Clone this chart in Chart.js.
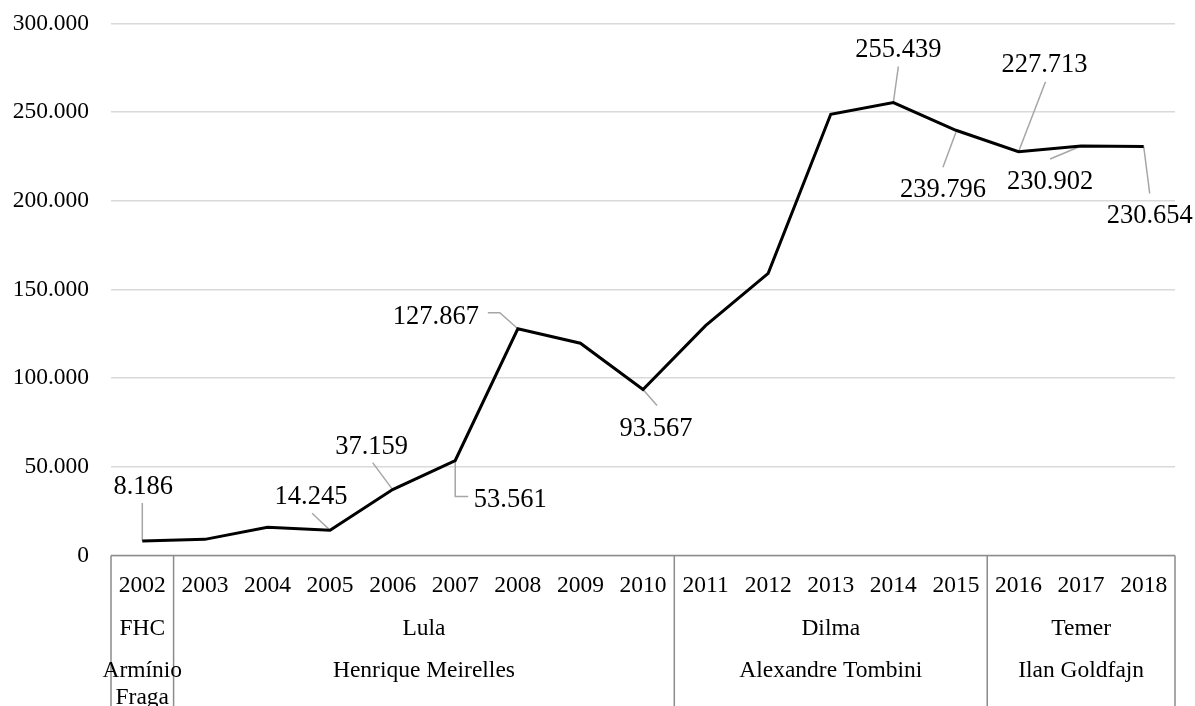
<!DOCTYPE html>
<html>
<head>
<meta charset="utf-8">
<script src="https://cdn.jsdelivr.net/npm/chart.js"></script>
<style>
  body { margin: 0; background: #fff; }
  canvas { display: block; }
</style>
</head>
<body>
<canvas id="myChart" width="1195" height="706"></canvas>
<script>
const years = ['2002', '2003', '2004', '2005', '2006', '2007', '2008', '2009', '2010',
               '2011', '2012', '2013', '2014', '2015', '2016', '2017', '2018'];
const reserves = [8186, 9100, 15900, 14245, 37159, 53561, 127867, 119700, 93567,
                  129600, 159100, 248800, 255439, 239796, 227713, 230902, 230654];
const yTicks = [0, 50000, 100000, 150000, 200000, 250000, 300000];

// second and third rows of the x axis: [label, first index, last index]
const presidents = [['FHC', 0, 0], ['Lula', 1, 8], ['Dilma', 9, 13], ['Temer', 14, 16]];
const bankChiefs = [['Armínio\nFraga', 0, 0], ['Henrique Meirelles', 1, 8],
                    ['Alexandre Tombini', 9, 13], ['Ilan Goldfajn', 14, 16]];

// which points get a value label
const labelled = [0, 3, 4, 5, 6, 8, 12, 13, 14, 15, 16];

// label placement relative to the point, plus the leader polyline
const labelSpots = {
    0:  { dx: 1,   dy: -54, leader: [[0, -38], [0, 0]] },
    3:  { dx: -19, dy: -33, leader: [[-18, -17], [0, 0]] },
    4:  { dx: -21, dy: -43, leader: [[-20, -27], [0, 0]] },
    5:  { dx: 55,  dy: 40,  leader: [[0, 0], [0, 36], [13, 36]] },
    6:  { dx: -82, dy: -12, leader: [[-30, -16], [-18, -16], [0, 0]] },
    8:  { dx: 13,  dy: 39,  leader: [[0, 0], [14, 16]] },
    12: { dx: 5,   dy: -52, leader: [[5, -36], [0, 0]] },
    13: { dx: -13, dy: 60,  leader: [[0, 2], [-13, 37]] },
    14: { dx: 26,  dy: -87, leader: [[27, -70], [0, 0]] },
    15: { dx: -31, dy: 36,  leader: [[-31, 13], [0, 0]] },
    16: { dx: 6,   dy: 70,  leader: [[0, 0], [6, 47]] }
};

const SERIF = '"Liberation Serif", "Times New Roman", serif';

const fmt = v => String(Math.round(v)).replace(/\B(?=(\d{3})+(?!\d))/g, '.');

const valueLabels = {
    id: 'valueLabels',
    beforeDatasetsDraw(chart) {
        const ctx = chart.ctx;
        const meta = chart.getDatasetMeta(0);
        ctx.save();
        ctx.strokeStyle = '#a6a6a6';
        ctx.lineWidth = 1.5;
        labelled.forEach(i => {
            const p = meta.data[i];
            const spot = labelSpots[i];
            ctx.beginPath();
            spot.leader.forEach(([ox, oy], k) => {
                if (k === 0) ctx.moveTo(p.x + ox, p.y + oy);
                else ctx.lineTo(p.x + ox, p.y + oy);
            });
            ctx.stroke();
        });
        ctx.restore();
    },
    afterDatasetsDraw(chart) {
        const ctx = chart.ctx;
        const meta = chart.getDatasetMeta(0);
        const data = chart.data.datasets[0].data;
        ctx.save();
        ctx.font = '26.5px ' + SERIF;
        ctx.fillStyle = '#000';
        ctx.textAlign = 'center';
        ctx.textBaseline = 'middle';
        labelled.forEach(i => {
            const p = meta.data[i];
            const spot = labelSpots[i];
            ctx.fillText(fmt(data[i]), p.x + spot.dx, p.y + spot.dy);
        });
        ctx.restore();
    }
};

// grouped category axis drawn under the plot
const groupAxis = {
    id: 'groupAxis',
    afterDraw(chart) {
        const ctx = chart.ctx;
        const x = chart.scales.x;
        const area = chart.chartArea;
        const step = (area.right - area.left) / years.length;
        const bottom = chart.height;

        ctx.save();
        ctx.strokeStyle = '#8c8c8c';
        ctx.lineWidth = 1.5;
        ctx.beginPath();
        ctx.moveTo(area.left, area.bottom);
        ctx.lineTo(area.right, area.bottom);
        const edges = [0, 1, 9, 14, 17];
        edges.forEach(e => {
            const ex = area.left + e * step;
            ctx.moveTo(ex, area.bottom);
            ctx.lineTo(ex, bottom);
        });
        ctx.stroke();

        ctx.font = '23.5px ' + SERIF;
        ctx.fillStyle = '#000';
        ctx.textAlign = 'center';
        ctx.textBaseline = 'middle';
        years.forEach((y, i) => {
            ctx.fillText(y, x.getPixelForValue(i), area.bottom + 30);
        });
        const drawRow = (groups, yPos) => {
            groups.forEach(([text, a, b]) => {
                const cx = (x.getPixelForValue(a) + x.getPixelForValue(b)) / 2;
                text.split('\n').forEach((line, k) => {
                    ctx.fillText(line, cx, yPos + k * 27);
                });
            });
        };
        drawRow(presidents, area.bottom + 73);
        drawRow(bankChiefs, area.bottom + 115);
        ctx.restore();
    }
};

const ctx = document.getElementById('myChart').getContext('2d');
const myChart = new Chart(ctx, {
    type: 'line',
    data: {
        labels: years,
        datasets: [{
            data: reserves,
            borderColor: '#000',
            borderWidth: 3,
            tension: 0,
            pointRadius: 0,
            fill: false
        }]
    },
    options: {
        responsive: false,
        animation: false,
        devicePixelRatio: 1,
        layout: {
            padding: { top: 23.5, bottom: 150.5, left: 0, right: 20 }
        },
        plugins: {
            legend: { display: false },
            tooltip: { enabled: false }
        },
        scales: {
            x: {
                display: false,
                offset: true
            },
            y: {
                min: 0,
                max: 300000,
                afterBuildTicks: axis => {
                    axis.ticks = yTicks.map(v => ({ value: v }));
                },
                afterFit: axis => {
                    axis.width = 111;
                    axis.paddingTop = 0;
                    axis.paddingBottom = 0;
                },
                border: { display: false },
                grid: { color: '#d9d9d9', lineWidth: 1.5, drawTicks: false },
                ticks: {
                    padding: 22,
                    color: '#000',
                    font: { family: SERIF, size: 23.5 },
                    callback: v => fmt(v)
                }
            }
        }
    },
    plugins: [valueLabels, groupAxis]
});
</script>
</body>
</html>
